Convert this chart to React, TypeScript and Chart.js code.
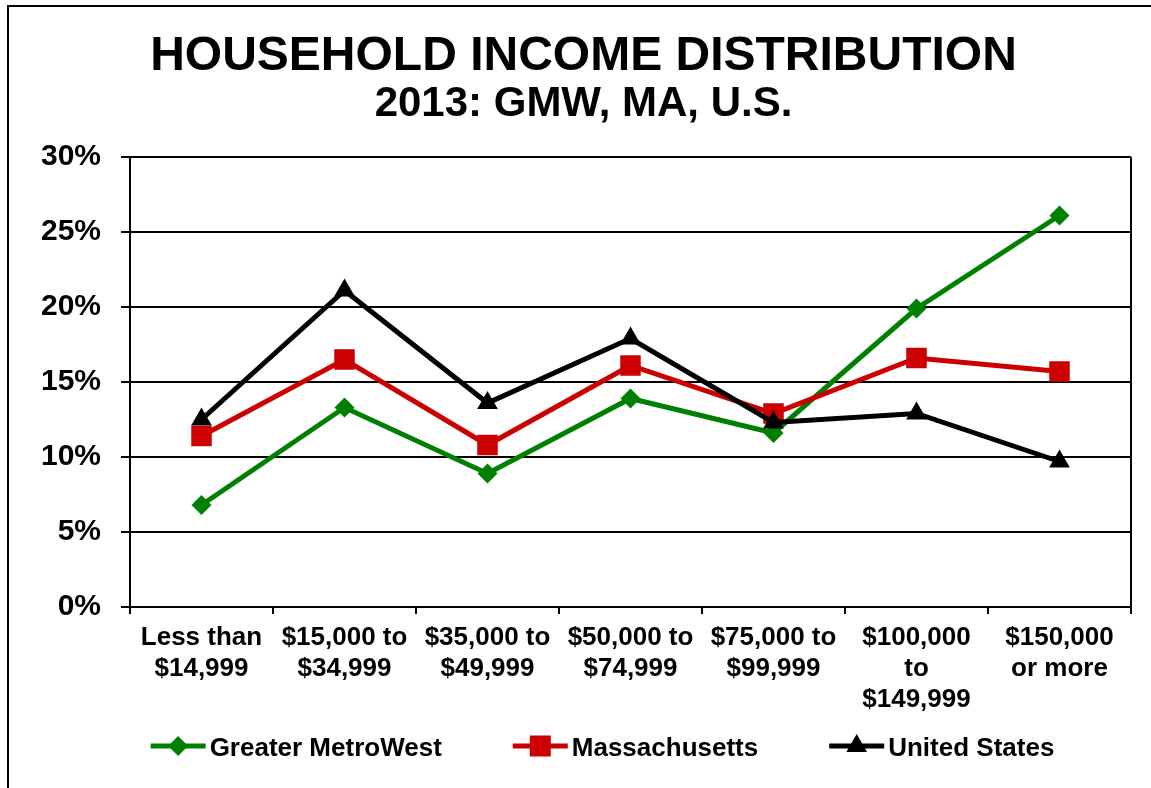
import React, { useEffect, useRef } from "react";
import { Chart, registerables } from "chart.js";

Chart.register(...registerables);

const FONT = "'Liberation Sans', Arial, Helvetica, sans-serif";

const TITLE = "HOUSEHOLD INCOME DISTRIBUTION";
const SUBTITLE = "2013: GMW, MA, U.S.";

const categories: string[][] = [
  ["Less than", "$14,999"],
  ["$15,000 to", "$34,999"],
  ["$35,000 to", "$49,999"],
  ["$50,000 to", "$74,999"],
  ["$75,000 to", "$99,999"],
  ["$100,000", "to", "$149,999"],
  ["$150,000", "or more"],
];

const seriesNames = ["Greater MetroWest", "Massachusetts", "United States"];
const greaterMetroWest = [6.8, 13.3, 8.9, 13.9, 11.6, 19.9, 26.1];
const massachusetts = [11.4, 16.5, 10.8, 16.1, 12.9, 16.6, 15.7];
const unitedStates = [12.5, 21.1, 13.6, 17.9, 12.3, 12.9, 9.7];

const yMin = 0;
const yMax = 30;
const yStep = 5;

const GREEN = "#008000";
const RED = "#CC0000";
const BLACK = "#000000";

function drawMarker(ctx: CanvasRenderingContext2D, style: string, x: number, y: number, color: string) {
  ctx.fillStyle = color;
  ctx.beginPath();
  if (style === "rectRot") {
    const r = 10;
    ctx.moveTo(x - r, y);
    ctx.lineTo(x, y - r);
    ctx.lineTo(x + r, y);
    ctx.lineTo(x, y + r);
  } else if (style === "rect") {
    const h = 10.5;
    ctx.rect(x - h, y - h, 2 * h, 2 * h);
  } else {
    const r = 12;
    ctx.moveTo(x, y - r);
    ctx.lineTo(x + r * Math.sin((2 * Math.PI) / 3), y + r / 2);
    ctx.lineTo(x - r * Math.sin((2 * Math.PI) / 3), y + r / 2);
  }
  ctx.closePath();
  ctx.fill();
}

const overlayPlugin = {
  id: "overlay",
  afterDraw(chart: any) {
    const ctx: CanvasRenderingContext2D = chart.ctx;
    const a = chart.chartArea;
    ctx.save();
    // plot area right border
    ctx.strokeStyle = BLACK;
    ctx.lineWidth = 2;
    ctx.beginPath();
    ctx.moveTo(a.right, a.top);
    ctx.lineTo(a.right, a.bottom);
    ctx.stroke();

    // titles
    ctx.fillStyle = BLACK;
    ctx.textAlign = "center";
    ctx.textBaseline = "alphabetic";
    const cx = chart.width / 2;
    ctx.font = `bold 48px ${FONT}`;
    ctx.fillText(TITLE, cx, 70);
    ctx.font = `bold 42px ${FONT}`;
    ctx.fillText(SUBTITLE, cx, 116);

    // legend
    ctx.font = `bold 26px ${FONT}`;
    const lineLen = 55;
    const textGap = 4;
    const itemGap = 71;
    const datasets = chart.data.datasets;
    const widths = datasets.map((d: any) => lineLen + textGap + ctx.measureText(d.label).width);
    const total = widths.reduce((s: number, w: number) => s + w, 0) + itemGap * (datasets.length - 1);
    let x = 602.5 - total / 2;
    const ly = 746;
    datasets.forEach((d: any, i: number) => {
      ctx.strokeStyle = d.borderColor;
      ctx.lineWidth = 5;
      ctx.beginPath();
      ctx.moveTo(x, ly);
      ctx.lineTo(x + lineLen, ly);
      ctx.stroke();
      drawMarker(ctx, d.pointStyle, x + lineLen / 2, ly, d.borderColor);
      ctx.fillStyle = BLACK;
      ctx.textAlign = "left";
      ctx.textBaseline = "alphabetic";
      ctx.fillText(d.label, x + lineLen + textGap, ly + 9.5);
      x += widths[i] + itemGap;
    });
    ctx.restore();
  },
};

export default function App() {
  const canvasRef = useRef<HTMLCanvasElement | null>(null);

  useEffect(() => {
    if (!canvasRef.current) return;
    const chart = new Chart(canvasRef.current, {
      type: "line",
      data: {
        labels: categories,
        datasets: [
          {
            label: seriesNames[0],
            data: greaterMetroWest,
            borderColor: GREEN,
            backgroundColor: GREEN,
            borderWidth: 5,
            pointStyle: "rectRot",
            pointRadius: 10,
            pointBorderWidth: 0,
            pointBackgroundColor: GREEN,
            tension: 0,
            order: 3,
          },
          {
            label: seriesNames[1],
            data: massachusetts,
            borderColor: RED,
            backgroundColor: RED,
            borderWidth: 5,
            pointStyle: "rect",
            pointRadius: 14.5,
            pointBorderWidth: 0,
            pointBackgroundColor: RED,
            tension: 0,
            order: 2,
          },
          {
            label: seriesNames[2],
            data: unitedStates,
            borderColor: BLACK,
            backgroundColor: BLACK,
            borderWidth: 5,
            pointStyle: "triangle",
            pointRadius: 12,
            pointBorderWidth: 0,
            pointBackgroundColor: BLACK,
            tension: 0,
            order: 1,
          },
        ] as any,
      },
      options: {
        responsive: false,
        animation: false,
        events: [],
        layout: { padding: { top: 157, right: 36, bottom: 0, left: 0 } },
        plugins: {
          legend: { display: false },
          title: { display: false },
          tooltip: { enabled: false },
        },
        scales: {
          x: {
            type: "category",
            offset: true,
            afterFit: (s: any) => {
              s.height = 181;
            },
            grid: {
              offset: true,
              drawOnChartArea: false,
              drawTicks: true,
              tickLength: 7,
              color: BLACK,
              lineWidth: 2,
            },
            border: { display: true, color: BLACK, width: 2 },
            ticks: {
              color: BLACK,
              font: { family: FONT, size: 26, weight: "bold", lineHeight: 1.2 },
              padding: 8,
              maxRotation: 0,
              autoSkip: false,
            },
          },
          y: {
            min: yMin,
            max: yMax,
            afterFit: (s: any) => {
              s.width = 130;
            },
            grid: {
              color: BLACK,
              lineWidth: 2,
              drawTicks: true,
              tickLength: 9,
            },
            border: { display: true, color: BLACK, width: 2 },
            ticks: {
              stepSize: yStep,
              color: BLACK,
              padding: 20,
              font: { family: FONT, size: 30, weight: "bold" },
              callback: (v: any) => `${v}%`,
            },
          },
        },
      } as any,
      plugins: [overlayPlugin],
    });
    return () => chart.destroy();
  }, []);

  return (
    <div
      style={{
        position: "fixed",
        left: 0,
        top: 0,
        width: 1151,
        height: 788,
        overflow: "hidden",
        background: "#fff",
      }}
    >
      <canvas ref={canvasRef} width={1167} height={788} style={{ display: "block" }} />
      <div
        style={{
          position: "absolute",
          left: 7,
          top: 5,
          width: 1160,
          height: 800,
          borderLeft: "2px solid #000",
          borderTop: "2px solid #000",
          pointerEvents: "none",
        }}
      />
    </div>
  );
}
